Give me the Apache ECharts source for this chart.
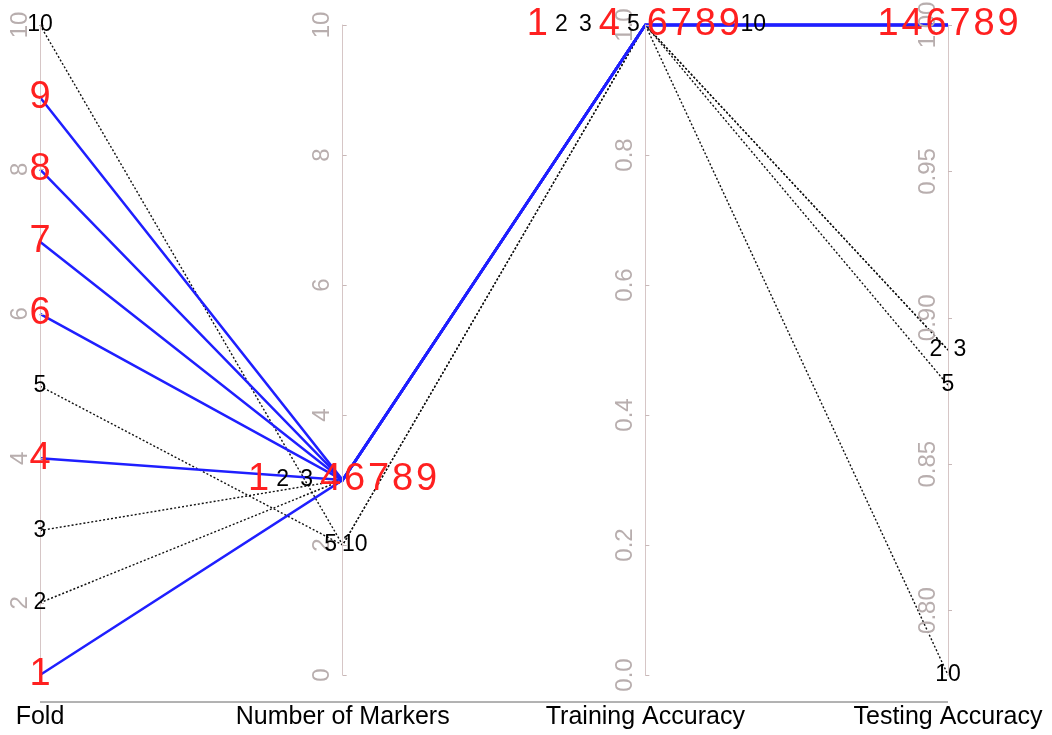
<!DOCTYPE html>
<html>
<head>
<meta charset="utf-8">
<title>Fold results</title>
<script src="https://cdn.jsdelivr.net/npm/echarts@6/dist/echarts.min.js"></script>
<style>
  html, body { margin: 0; padding: 0; background: #fff; }
  #chart { width: 1052px; height: 735px; }
</style>
</head>
<body>
<div id="chart"></div>
<script>
// values
const axisNames = ['Fold', 'Number of Markers', 'Training Accuracy', 'Testing Accuracy']
const folds = [1, 2, 3, 4, 5, 6, 7, 8, 9, 10]
const markers = [3, 3, 3, 3, 2, 3, 3, 3, 3, 2]
const training = [1, 1, 1, 1, 1, 1, 1, 1, 1, 1]
const testing = [1.0, 0.889, 0.889, 1.0, 0.877, 1.0, 1.0, 1.0, 1.0, 0.778]
const highlighted = [1, 4, 6, 7, 8, 9]

// tick labels
const foldTicks = [2, 4, 6, 8, 10]
const markerTicks = [0, 2, 4, 6, 8, 10]
const trainingTicks = [0, 0.2, 0.4, 0.6, 0.8, 1.0]
const testingTicks = [0.8, 0.85, 0.9, 0.95, 1.0]

const FONT = '"Liberation Sans", Arial, sans-serif'
const BLUE = '#1f1fff'
const RED = '#ff2020'
const columns = [folds, markers, training, testing]

const chart = echarts.init(document.getElementById('chart'))

const makeAxis = (dim, min, max, ticks, digits) => ({
  dim: dim,
  name: axisNames[dim],
  nameLocation: 'start',
  nameGap: 30,
  nameTextStyle: { color: '#000', fontSize: 25, fontFamily: FONT },
  type: 'value',
  min: min,
  max: max,
  axisLine: { lineStyle: { color: '#d6c6c6', width: 1 } },
  axisTick: { show: true, inside: true, length: 4, customValues: ticks, lineStyle: { color: '#c8b8b8' } },
  axisLabel: {
    customValues: ticks,
    rotate: 90,
    margin: -8,
    verticalAlign: 'bottom',
    align: 'center',
    color: '#b8aeae',
    fontSize: 24,
    fontFamily: FONT,
    formatter: (v) => Number(v).toFixed(digits)
  },
  splitLine: { show: false }
})

const rows = folds.map((f, i) => [f, markers[i], training[i], testing[i]])

const option = {
  animation: false,
  backgroundColor: '#fff',
  parallel: {
    left: 40,
    right: 104,
    top: 25,
    bottom: 60,
    parallelAxisDefault: { realtime: false }
  },
  parallelAxis: [
    makeAxis(0, 1, 10, foldTicks, 0),
    makeAxis(1, 0, 10, markerTicks, 0),
    makeAxis(2, 0, 1, trainingTicks, 1),
    makeAxis(3, Math.min(...testing), 1, testingTicks, 2)
  ],
  series: [
    {
      name: 'other',
      type: 'parallel',
      silent: true,
      lineStyle: { color: '#111', width: 1.4, type: [2, 2], opacity: 1 },
      data: rows.filter((r) => !highlighted.includes(r[0]))
    },
    {
      name: 'selected',
      type: 'parallel',
      silent: true,
      lineStyle: { color: BLUE, width: 2.5, opacity: 1 },
      data: rows.filter((r) => highlighted.includes(r[0]))
    }
  ]
}

chart.setOption(option)

// point labels: fold numbers written at every axis, spread out where values tie
const addLabels = () => {
  const cs = chart.getModel().getComponent('parallel').coordinateSystem
  const graphics = []
  columns.forEach((col, d) => {
    const groups = {}
    col.forEach((v, i) => {
      const key = Number(v).toFixed(4)
      if (!groups[key]) groups[key] = []
      groups[key].push(i)
    })
    Object.keys(groups).forEach((key) => {
      const idx = groups[key]
      idx.forEach((i, k) => {
        const pt = cs.dataToPoint(col[i], 'dim' + d)
        const hi = highlighted.includes(folds[i])
        graphics.push({
          type: 'text',
          x: pt[0] + (k - (idx.length - 1) / 2) * 24,
          y: pt[1],
          z: 100,
          silent: true,
          style: {
            text: String(folds[i]),
            fill: hi ? RED : '#000',
            fontSize: hi ? 38 : 23,
            fontFamily: FONT,
            align: 'center',
            verticalAlign: 'middle'
          }
        })
      })
    })
  })
  // base line joining the first and last axis
  const p0 = cs.dataToPoint(folds[0], 'dim0')
  const p3 = cs.dataToPoint(Math.min(...testing), 'dim3')
  graphics.push({
    type: 'line',
    silent: true,
    shape: { x1: p0[0], y1: p0[1] + 27, x2: p3[0], y2: p3[1] + 27 },
    style: { stroke: '#666', lineWidth: 1 }
  })
  chart.setOption({ graphic: graphics })
}

addLabels()
</script>
</body>
</html>
